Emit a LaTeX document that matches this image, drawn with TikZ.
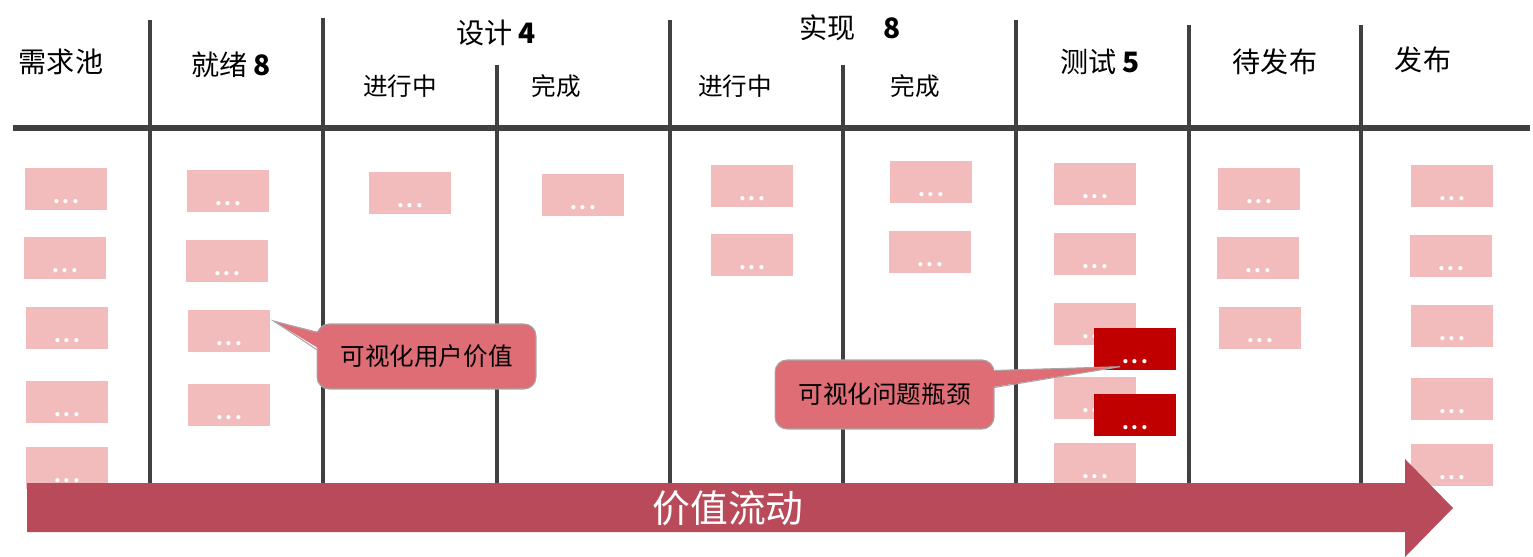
\documentclass[tikz,border=0pt]{standalone}
\usepackage{fontspec}
\setmainfont{Noto Sans CJK SC}
\usetikzlibrary{calc}
\definecolor{cardpink}{RGB}{242,188,188}
\definecolor{cardred}{RGB}{192,0,0}
\definecolor{lanegray}{RGB}{64,64,64}
\definecolor{calloutred}{RGB}{223,109,117}
\definecolor{calloutgray}{RGB}{166,166,166}
\definecolor{flowred}{RGB}{184,74,90}
\tikzset{
	lane/.style={lanegray, line width=2.8pt},
	card/.style={fill=cardpink, anchor=north west, minimum width=1.64cm, minimum height=0.84cm,
		inner sep=0pt, text height=0.56cm, text depth=0pt, text=white,
		font=\fontsize{11}{12}\selectfont\bfseries\addfontfeatures{LetterSpace=15}},
	head/.style={inner sep=0pt, font=\fontsize{16}{18}\selectfont},
	subhead/.style={inner sep=0pt, font=\fontsize{14}{16}\selectfont},
	callbox/.style={fill=calloutred, draw=calloutgray, line width=0.6pt, rounded corners=0.24cm,
		minimum width=4.38cm, inner sep=0pt, font=\fontsize{14}{16}\selectfont},
}
\begin{document}
\begin{tikzpicture}[x=0.02cm,y=-0.02cm]
		\useasboundingbox (0,0) rectangle (1533,557);
		% lanes
		\foreach \x/\y in {150/20,323/18,497/65,670/20,843/65,1016/20,1189/25,1361/25}
			\draw [lane] (\x,\y) -- (\x,483);
		\draw [lane, line width=3pt] (13,128) -- (1530,128);
		% headers
		\node [head] (pool) at (61,62) {需求池};
		\node [head] (ready) at (231,65) {就绪 {\bfseries 8}};
		\node [head] (design) at (496,33) {设计 {\bfseries 4}};
		\node [subhead] (desdoing) at (400,86) {进行中};
		\node [subhead] (desdone) at (556,86) {完成};
		\node [head] (impl) at (850,28) {实现\quad{\bfseries 8}};
		\node [subhead] (impdoing) at (735,86) {进行中};
		\node [subhead] (impdone) at (915,86) {完成};
		\node [head] (test) at (1100,62) {测试 {\bfseries 5}};
		\node [head] (wait) at (1275,62) {待发布};
		\node [head] (release) at (1423,60) {发布};
		% cards
		\foreach \x/\y [count=\i] in {25/168,24/237,26/307,26/381,26/447,
			187/170,186/240,188/310,188/384,369/172,542/174,
			711/165,711/234,890/161,889/231,
			1054/163,1054/233,1054/303,1054/377,1054/443,
			1218/168,1217/237,1219/307,
			1411/165,1410/235,1411/305,1411/378,1411/444}
			\node [card] (c\i) at (\x,\y) {...};
		\node [card, fill=cardred] (r1) at (1094,328) {...};
		\node [card, fill=cardred] (r2) at (1094,394) {...};
		% value flow
		\fill [flowred] (27,483) -- (1405,483) -- (1405,459) -- (1453,508) -- (1405,557) -- (1405,532) -- (27,532) -- cycle;
		\node [text=white, font=\fontsize{21.5}{24}\selectfont] (flow) at (728,508) {价值流动};
		% callouts
		\node [callbox, minimum height=1.3cm] (vu) at (426.5,356.5) {可视化用户价值};
		\coordinate (vutip) at ($(c8.north east)+(3,11)$);
		\fill [calloutred] (vutip) -- ($(vu.north west)+(4,9)$) -- ($(vu.north west)+(4,26)$) -- cycle;
		\draw [calloutgray, line width=0.6pt] ($(vu.north west)+(0,9)$) -- (vutip) -- ($(vu.north west)+(0,26)$);
		\node [callbox, minimum height=1.38cm] (vb) at (884.5,394.5) {可视化问题瓶颈};
		\coordinate (vbtip) at ($(r1.south west)+(26,-4)$);
		\fill [calloutred] (vbtip) -- ($(vb.north east)+(-4,11)$) -- ($(vb.north east)+(-4,28)$) -- cycle;
		\draw [calloutgray, line width=0.6pt] ($(vb.north east)+(0,11)$) -- (vbtip) -- ($(vb.north east)+(0,28)$);
	\end{tikzpicture}
\end{document}
